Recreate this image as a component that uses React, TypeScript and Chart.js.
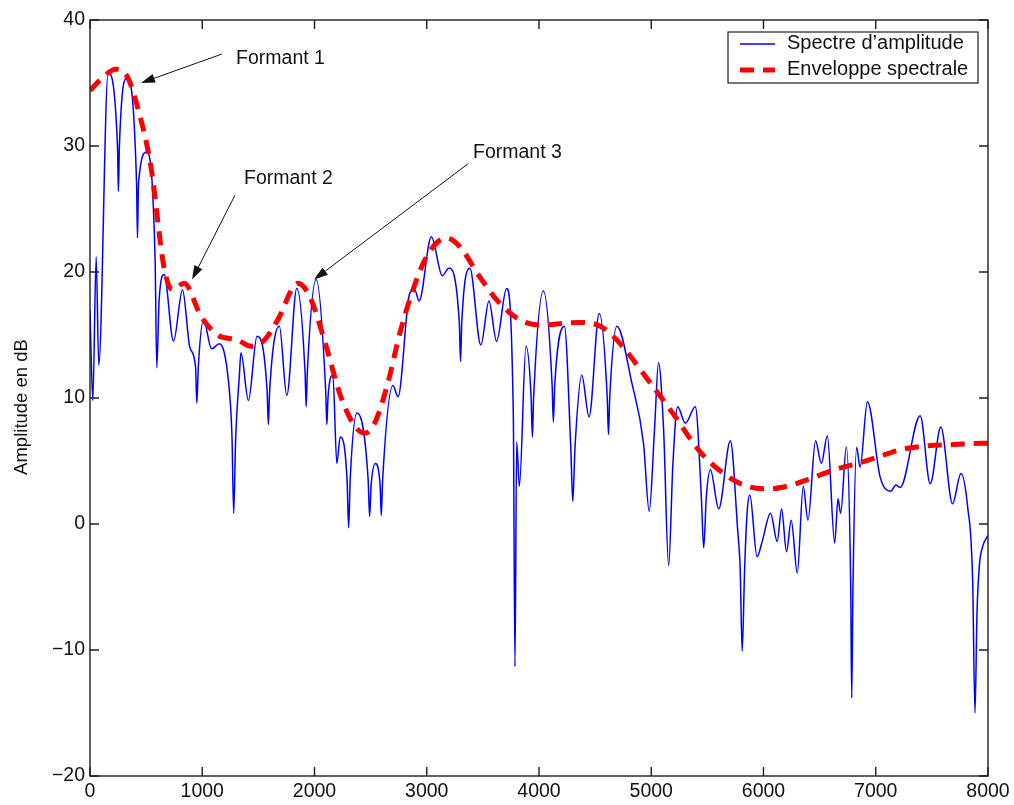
import React, { useEffect, useRef } from "react";
import { Chart, registerables } from "chart.js";

Chart.register(...registerables);

const FONT = '"Liberation Sans", Arial, Helvetica, sans-serif';

// ---- Data ----
const spectrumHz = [
  0, 25, 55, 78, 161, 245, 253, 262, 327, 415, 423, 432, 503, 580, 595, 616, 661, 744, 824, 890,
  940, 952, 965, 1012, 1083, 1152, 1235, 1265, 1280, 1298, 1330, 1345, 1411, 1488, 1578, 1589, 1600,
  1687, 1753, 1842, 1916, 1926, 1936, 2015, 2100, 2110, 2120, 2164, 2199, 2229, 2290, 2304, 2318,
  2378, 2478, 2491, 2504, 2542, 2585, 2595, 2607, 2699, 2744, 2848, 2893, 2932, 3041, 3139, 3196,
  3290, 3301, 3312, 3384, 3482, 3554, 3622, 3711, 3771, 3786, 3801, 3825, 3884, 3930, 3941, 3952,
  4039, 4117, 4128, 4140, 4226, 4283, 4301, 4321, 4381, 4446, 4536, 4608, 4619, 4630, 4694, 4827,
  4931, 4982, 5029, 5065, 5110, 5155, 5193, 5235, 5304, 5393, 5446, 5467, 5491, 5527, 5601, 5705,
  5770, 5792, 5810, 5832, 5854, 5878, 5943, 5985, 6063, 6122, 6161, 6205, 6247, 6301, 6354, 6396,
  6464, 6515, 6569, 6634, 6664, 6687, 6738, 6777, 6786, 6797, 6830, 6860, 6926, 7040, 7134, 7179,
  7217, 7396, 7485, 7580, 7684, 7759, 7818, 7863, 7884, 7902, 7922, 7952, 8000,
];
const spectrumDb = [
  17.0, 9.8, 21.2, 12.6, 35.8, 30.0, 26.4, 30.0, 35.4, 27.0, 22.7, 27.0, 29.5, 21.0, 12.4, 17.8, 19.8, 14.5, 18.6, 14.0,
  12.5, 9.6, 12.5, 16.2, 13.9, 14.3, 11.2, 6.9, 0.85, 6.9, 11.7, 13.6, 9.8, 14.9, 10.5, 7.9, 10.5,
  15.7, 10.2, 18.7, 12.0, 9.3, 12.0, 19.4, 10.5, 7.9, 10.0, 11.8, 4.8, 6.9, 3.5, -0.3, 3.5,
  8.8, 3.5, 0.6, 3.0, 4.8, 3.0, 0.7, 3.5, 11.0, 10.1, 18.3, 18.6, 17.7, 22.8, 19.7, 20.3,
  16.0, 12.9, 16.0, 20.3, 14.2, 17.7, 14.5, 18.7, 8.8, -11.3, 6.5, 3.0, 14.1, 10.0, 6.9, 10.0,
  18.5, 11.0, 8.1, 11.0, 15.7, 6.1, 1.8, 6.1, 11.8, 8.5, 16.7, 10.0, 7.1, 10.0, 15.7, 11.2,
  6.4, 1.0, 7.5, 12.8, 7.5, -3.3, 4.8, 9.3, 8.0, 9.3, 2.2, -1.9, 2.2, 4.3, 1.2, 6.6,
  -0.5, -3.5, -10.1, -3.5, 0.9, 2.3, -2.6, -1.5, 0.85, -1.4, 1.2, -2.2, 0.3, -3.9, 3.0, 0.3,
  6.6, 4.8, 7.0, -1.5, 2.0, 0.85, 6.1, -5.0, -13.8, -5.0, 6.1, 4.5, 9.7, 3.7, 2.6, 3.1,
  2.9, 8.6, 3.2, 7.7, 1.6, 4.0, 1.4, -4.4, -15.0, -7.1, -3.4, -1.8, -0.9,
];

const envelopeHz = [
  0, 120, 229, 333, 423, 542, 661, 735, 839, 988, 1137, 1315, 1435, 1554, 1673, 1851, 1955, 2104,
  2223, 2342, 2446, 2536, 2654, 2759, 2848, 2997, 3176, 3295, 3473, 3652, 3830, 4009, 4366, 4545,
  4694, 4991, 5199, 5438, 5646, 5854, 6063, 6211, 6390, 6628, 6836, 7015, 7223, 7461, 7699, 7952, 8000,
];
const envelopeDb = [
  34.4, 35.5, 36.1, 35.5, 33.1, 28.4, 20.3, 18.6, 19.1, 16.5, 15.0, 14.6, 14.1, 14.6, 16.2, 19.1, 18.1, 14.1,
  10.4, 8.0, 7.2, 8.0, 11.2, 15.1, 17.8, 21.2, 22.7, 22.0, 19.6, 17.5, 16.2, 15.8, 16.0, 15.7,
  14.6, 11.2, 8.7, 5.7, 4.0, 3.0, 2.8, 3.0, 3.5, 4.3, 4.8, 5.3, 5.9, 6.2, 6.3, 6.4, 6.4,
];

const seriesLabels = ["Spectre d\u2019amplitude", "Enveloppe spectrale"];

const xTickValues = [0, 1000, 2000, 3000, 4000, 5000, 6000, 7000, 8000];
const xTickLabels = ["0", "1000", "2000", "3000", "4000", "5000", "6000", "7000", "8000"];
const yTickValues = [-20, -10, 0, 10, 20, 30, 40];
const yTickLabels = ["\u221220", "\u221210", "0", "10", "20", "30", "40"];
const yAxisTitle = "Amplitude en dB";

// annotations (data coordinates)
const annotationLabels = ["Formant 1", "Formant 2", "Formant 3"];
const annotationTextHz = [1301, 1372, 3412];
const annotationTextDb = [36.96, 27.4, 29.45];
const arrowFromHz = [1176, 1292, 3370];
const arrowFromDb = [37.3, 26.1, 28.6];
const arrowToHz = [454, 909, 1996];
const arrowToDb = [35.0, 19.4, 19.4];

const overlayPlugin = {
  id: "overlay",
  afterDraw(chart: any) {
    const { ctx, chartArea: a, scales } = chart;
    const x = scales.x;
    const y = scales.y;
    ctx.save();

    // frame
    ctx.strokeStyle = "#1e1e1e";
    ctx.lineWidth = 1.4;
    ctx.strokeRect(a.left, a.top, a.right - a.left, a.bottom - a.top);

    // inward ticks on all four sides
    const TL = 9;
    ctx.beginPath();
    for (const t of x.ticks) {
      const px = x.getPixelForValue(t.value);
      ctx.moveTo(px, a.bottom);
      ctx.lineTo(px, a.bottom - TL);
      ctx.moveTo(px, a.top);
      ctx.lineTo(px, a.top + TL);
    }
    for (const t of y.ticks) {
      const py = y.getPixelForValue(t.value);
      ctx.moveTo(a.left, py);
      ctx.lineTo(a.left + TL, py);
      ctx.moveTo(a.right, py);
      ctx.lineTo(a.right - TL, py);
    }
    ctx.stroke();

    // annotations
    ctx.fillStyle = "#111";
    ctx.strokeStyle = "#111";
    ctx.lineWidth = 1;
    ctx.font = `19.5px ${FONT}`;
    ctx.textAlign = "left";
    ctx.textBaseline = "middle";
    for (let i = 0; i < annotationLabels.length; i++) {
      ctx.fillText(
        annotationLabels[i],
        x.getPixelForValue(annotationTextHz[i]),
        y.getPixelForValue(annotationTextDb[i])
      );
      const x0 = x.getPixelForValue(arrowFromHz[i]);
      const y0 = y.getPixelForValue(arrowFromDb[i]);
      const x1 = x.getPixelForValue(arrowToHz[i]);
      const y1 = y.getPixelForValue(arrowToDb[i]);
      const ang = Math.atan2(y1 - y0, x1 - x0);
      const hl = 14;
      const hw = 4.5;
      const bx = x1 - hl * Math.cos(ang);
      const by = y1 - hl * Math.sin(ang);
      ctx.beginPath();
      ctx.moveTo(x0, y0);
      ctx.lineTo(bx, by);
      ctx.stroke();
      ctx.beginPath();
      ctx.moveTo(x1, y1);
      ctx.lineTo(bx + hw * Math.sin(ang), by - hw * Math.cos(ang));
      ctx.lineTo(bx - hw * Math.sin(ang), by + hw * Math.cos(ang));
      ctx.closePath();
      ctx.fill();
    }

    // legend box
    const bw = 250;
    const bh = 51;
    const bl = a.right - 10 - bw;
    const bt = a.top + 12;
    ctx.fillStyle = "#fff";
    ctx.fillRect(bl, bt, bw, bh);
    ctx.strokeStyle = "#1e1e1e";
    ctx.lineWidth = 1.2;
    ctx.strokeRect(bl, bt, bw, bh);
    const rows = [bt + 12, bt + 38];
    chart.data.datasets.forEach((ds: any, i: number) => {
      ctx.save();
      ctx.strokeStyle = ds.borderColor;
      ctx.lineWidth = ds.borderWidth;
      ctx.setLineDash(ds.borderDash || []);
      ctx.lineCap = "butt";
      ctx.beginPath();
      ctx.moveTo(bl + 12, rows[i]);
      ctx.lineTo(bl + 47, rows[i]);
      ctx.stroke();
      ctx.restore();
      ctx.fillStyle = "#111";
      ctx.font = `20px ${FONT}`;
      ctx.textAlign = "left";
      ctx.textBaseline = "middle";
      ctx.fillText(ds.label, bl + 59, rows[i] - 1);
    });

    // y axis title
    ctx.save();
    ctx.translate(22, (a.top + a.bottom) / 2 + 9);
    ctx.rotate(-Math.PI / 2);
    ctx.fillStyle = "#111";
    ctx.font = `18.5px ${FONT}`;
    ctx.textAlign = "center";
    ctx.textBaseline = "middle";
    ctx.fillText(yAxisTitle, 0, 0);
    ctx.restore();

    ctx.restore();
  },
};

export default function App() {
  const canvasRef = useRef<HTMLCanvasElement | null>(null);

  useEffect(() => {
    const canvas = canvasRef.current;
    if (!canvas) return;
    const chart = new Chart(canvas, {
      type: "line",
      data: {
        datasets: [
          {
            label: seriesLabels[0],
            data: spectrumHz.map((v, i) => ({ x: v, y: spectrumDb[i] })),
            borderColor: "#0000ff",
            borderWidth: 1.5,
            pointRadius: 0,
            cubicInterpolationMode: "monotone",
            fill: false,
            order: 2,
          },
          {
            label: seriesLabels[1],
            data: envelopeHz.map((v, i) => ({ x: v, y: envelopeDb[i] })),
            borderColor: "#ff0000",
            borderWidth: 5,
            borderDash: [14, 9],
            borderCapStyle: "butt",
            pointRadius: 0,
            cubicInterpolationMode: "monotone",
            fill: false,
            order: 1,
          },
        ],
      },
      options: {
        animation: false,
        responsive: false,
        devicePixelRatio: 1,
        events: [],
        layout: { padding: { left: 0, right: 26, top: 20, bottom: 0 } },
        plugins: { legend: { display: false }, tooltip: { enabled: false }, title: { display: false } },
        scales: {
          x: {
            type: "linear",
            min: 0,
            max: 8000,
            grid: { display: false, drawTicks: false },
            border: { display: false },
            afterBuildTicks: (s: any) => {
              s.ticks = xTickValues.map((v) => ({ value: v }));
            },
            afterFit: (s: any) => {
              s.height = 29;
            },
            ticks: {
              autoSkip: false,
              maxRotation: 0,
              padding: 4,
              color: "#111",
              font: { size: 19.5, family: FONT },
              callback: (v: any) => {
                const i = xTickValues.indexOf(Number(v));
                return i >= 0 ? xTickLabels[i] : "";
              },
            },
          },
          y: {
            type: "linear",
            min: -20,
            max: 40,
            grid: { display: false, drawTicks: false },
            border: { display: false },
            afterBuildTicks: (s: any) => {
              s.ticks = yTickValues.map((v) => ({ value: v }));
            },
            afterFit: (s: any) => {
              s.width = 90;
            },
            ticks: {
              autoSkip: false,
              padding: 5,
              color: "#111",
              font: { size: 19.5, family: FONT },
              callback: (v: any) => {
                const i = yTickValues.indexOf(Number(v));
                return i >= 0 ? yTickLabels[i] : "";
              },
            },
          },
        },
      },
      plugins: [overlayPlugin],
    } as any);
    return () => chart.destroy();
  }, []);

  return (
    <div
      style={{
        position: "fixed",
        left: 0,
        top: 0,
        width: 1014,
        height: 805,
        background: "#fff",
        overflow: "hidden",
      }}
    >
      <canvas ref={canvasRef} width={1014} height={805} style={{ display: "block" }} />
    </div>
  );
}
